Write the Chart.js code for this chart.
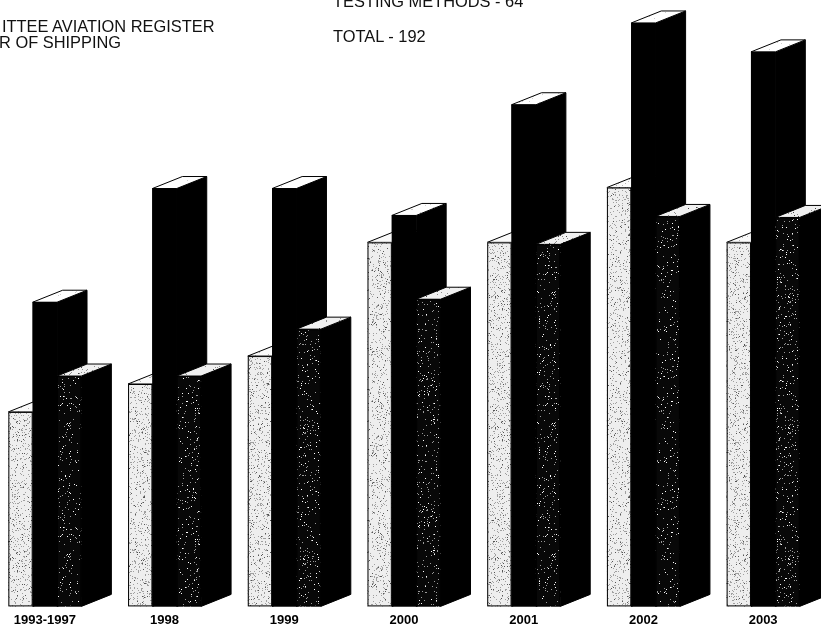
<!DOCTYPE html>
<html>
<head>
<meta charset="utf-8">
<script src="https://cdn.jsdelivr.net/npm/chart.js@4"></script>
<style>
  html, body { margin: 0; padding: 0; background: #fff; overflow: hidden; width: 821px; height: 631px; }
  #wrap { position: relative; width: 821px; height: 631px; overflow: hidden; }
  #chart { position: absolute; left: -15px; top: 0; }
  .note { position: absolute; font-family: 'Liberation Sans', Arial, sans-serif; font-size: 16.4px; color: #111; white-space: nowrap; line-height: 1; }
</style>
</head>
<body>
<div id="wrap">
  <canvas id="chart" width="880" height="640"></canvas>
  <div class="note" style="left:2px; top:18px;">ITTEE AVIATION REGISTER</div>
  <div class="note" style="left:-1px; top:34px;">R OF SHIPPING</div>
  <div class="note" style="left:333px; top:-7px;">TESTING METHODS - 64</div>
  <div class="note" style="left:333px; top:28px;">TOTAL - 192</div>
</div>
<script>
// categories and series
const years = ['1993-1997', '1998', '1999', '2000', '2001', '2002', '2003'];
const aviationRegister = [19.5, 22.3, 25.1, 36.5, 36.5, 42.0, 36.5];
const totalDocs = [30.5, 41.9, 41.9, 39.2, 50.3, 58.5, 55.6];
const registerOfShipping = [23.1, 23.1, 27.8, 30.8, 36.3, 39.1, 39.0];

// depth of the fake 3D faces
const DX = 30, DY = 12;

// stipple texture, fixed seed so it is the same every time
function stipple(bg, dots, seed) {
    const w = 97, h = 131;
    const c = document.createElement('canvas');
    c.width = w; c.height = h;
    const g = c.getContext('2d');
    g.fillStyle = bg;
    g.fillRect(0, 0, w, h);
    let s = seed;
    const rnd = () => { s = (s * 1103515245 + 12345) % 2147483648; return s / 2147483648; };
    dots.forEach(d => {
        g.fillStyle = d.color;
        for (let i = 0; i < d.count; i++) {
            g.fillRect(Math.floor(rnd() * w), Math.floor(rnd() * h), d.size || 1, d.size || 1);
        }
    });
    return g.createPattern(c, 'repeat');
}

const ctx0 = document.getElementById('chart').getContext('2d');
const lightFront = stipple('#eeeeee', [{color: '#a0a0a0', count: 1400}, {color: '#555', count: 300}], 7);
const darkFront = stipple('#080808', [{color: '#9a9a9a', count: 450}, {color: '#fff', count: 220}], 13);
const lightTop = stipple('#fafafa', [{color: '#b5b5b5', count: 500}], 21);
const blackTop = stipple('#ffffff', [{color: '#cfcfcf', count: 150}], 29);
const darkTop = stipple('#f0f0f0', [{color: '#8c8c8c', count: 1500}, {color: '#444', count: 300}], 37);

const fronts = [lightFront, '#000', darkFront];
const tops = [lightTop, blackTop, darkTop];

const bars3d = {
    id: 'bars3d',
    afterDatasetsDraw(chart) {
        const ctx = chart.ctx;
        const metas = [0, 1, 2].map(i => chart.getDatasetMeta(i));
        ctx.save();
        ctx.lineWidth = 1;
        ctx.strokeStyle = '#000';
        for (let i = 0; i < years.length; i++) {
            for (let d = 0; d < 3; d++) {
                const p = metas[d].data[i].getProps(['x', 'y', 'base', 'width'], true);
                const l = p.x - p.width / 2, r = p.x + p.width / 2;
                // side
                ctx.fillStyle = '#000';
                ctx.beginPath();
                ctx.moveTo(r, p.y);
                ctx.lineTo(r + DX, p.y - DY);
                ctx.lineTo(r + DX, p.base - DY);
                ctx.lineTo(r, p.base);
                ctx.closePath();
                ctx.fill();
                ctx.stroke();
                // top
                ctx.fillStyle = tops[d];
                ctx.beginPath();
                ctx.moveTo(l, p.y);
                ctx.lineTo(l + DX, p.y - DY);
                ctx.lineTo(r + DX, p.y - DY);
                ctx.lineTo(r, p.y);
                ctx.closePath();
                ctx.fill();
                ctx.stroke();
                // front
                ctx.fillStyle = fronts[d];
                ctx.fillRect(l, p.y, p.width, p.base - p.y);
                ctx.strokeRect(l + 0.5, p.y + 0.5, p.width - 1, p.base - p.y - 1);
            }
        }
        ctx.restore();
    }
};

new Chart(ctx0, {
    type: 'bar',
    data: {
        labels: years,
        datasets: [
            { label: 'Aviation Register', data: aviationRegister, backgroundColor: lightFront },
            { label: 'Total', data: totalDocs, backgroundColor: '#000' },
            { label: 'Register of Shipping', data: registerOfShipping, backgroundColor: darkFront }
        ]
    },
    options: {
        responsive: false,
        animation: false,
        devicePixelRatio: 1,
        categoryPercentage: 0.61,
        barPercentage: 1.0,
        layout: { padding: { left: 0, right: 42, top: 8, bottom: 6 } },
        plugins: { legend: { display: false }, tooltip: { enabled: false }, title: { display: false } },
        scales: {
            x: {
                grid: { display: false, drawTicks: false },
                border: { display: false },
                ticks: {
                    color: '#000',
                    padding: 6,
                    maxRotation: 0,
                    autoSkip: false,
                    font: { family: "'Liberation Sans', Arial, sans-serif", size: 13, weight: 'bold' }
                }
            },
            y: { display: false, min: 0, max: 60 }
        }
    },
    plugins: [bars3d]
});
</script>
</body>
</html>
